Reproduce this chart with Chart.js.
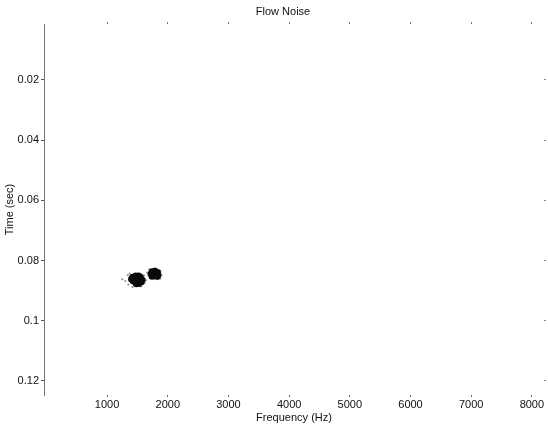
<!DOCTYPE html>
<html>
<head>
<meta charset="utf-8">
<script src="https://cdn.jsdelivr.net/npm/chart.js@4/dist/chart.umd.min.js"></script>
<style>
  html, body { margin: 0; padding: 0; background: #fff; }
  #wrap { width: 548px; height: 426px; }
</style>
</head>
<body>
<div id="wrap"><canvas id="flowNoise" width="548" height="426"></canvas></div>
<script>
// --- datos ---
const xTicks = [1000, 2000, 3000, 4000, 5000, 6000, 7000, 8000];
const yTicks = [0.02, 0.04, 0.06, 0.08, 0.1, 0.12];
const yLabels = ['0.02', '0.04', '0.06', '0.08', '0.1', '0.12'];

// celdas oscuras del espectrograma (Hz, seg)
const coreFreq = [1420, 1470, 1520, 1550, 1400, 1450, 1500, 1550, 1580, 1430, 1480, 1530, 1560, 1480, 1520,
                  1740, 1790, 1830, 1720, 1770, 1810, 1840, 1740, 1790, 1830];
const coreTime = [0.0855, 0.0851, 0.0851, 0.0855, 0.0862, 0.0860, 0.0860, 0.0862, 0.0865, 0.0869, 0.0871, 0.0870, 0.0872, 0.0878, 0.0877,
                  0.0837, 0.0835, 0.0839, 0.0845, 0.0844, 0.0845, 0.0847, 0.0853, 0.0852, 0.0853];

// puntos sueltos del borde
const edgeFreq = [1300, 1340, 1350, 1420, 1560, 1620, 1370, 1610, 1660, 1690, 1790, 1880, 1900, 1880, 1700, 1840, 1250, 1640];
const edgeTime = [0.0868, 0.0848, 0.0880, 0.0888, 0.0886, 0.0876, 0.0843, 0.0850, 0.0840, 0.0830, 0.0826, 0.0834, 0.0850, 0.0860, 0.0858, 0.0862, 0.0862, 0.0866];

const toPoints = (fs, ts) => fs.map((f, i) => ({ x: f, y: ts[i] }));

Chart.defaults.font.family = "'Liberation Sans', Arial, sans-serif";
Chart.defaults.font.size = 11;
Chart.defaults.color = '#111';

const setTicks = vals => scale => { scale.ticks = vals.map(v => ({ value: v })); };

// titulo dibujado a mano para centrarlo como en el original
const titlePlugin = {
    id: 'flowTitle',
    afterDraw(chart) {
        const ctx = chart.ctx;
        ctx.save();
        ctx.font = "11px 'Liberation Sans', Arial, sans-serif";
        ctx.fillStyle = '#111';
        ctx.textAlign = 'center';
        ctx.textBaseline = 'middle';
        ctx.fillText('Flow Noise', 283, 12);
        ctx.restore();
    }
};

new Chart(document.getElementById('flowNoise').getContext('2d'), {
    type: 'scatter',
    data: {
        datasets: [
            {
                data: toPoints(edgeFreq, edgeTime),
                backgroundColor: 'rgba(0,0,0,0.45)',
                borderWidth: 0,
                pointRadius: 1
            },
            {
                data: toPoints(coreFreq, coreTime),
                backgroundColor: '#0a0a0a',
                borderWidth: 0,
                pointRadius: 3.3
            }
        ]
    },
    options: {
        responsive: false,
        animation: false,
        layout: { padding: { top: 22 } },
        plugins: {
            legend: { display: false },
            tooltip: { enabled: false },
            title: { display: false }
        },
        scales: {
            x: {
                type: 'linear',
                position: 'bottom',
                min: -40,
                max: 8200,
                afterBuildTicks: setTicks(xTicks),
                afterFit: s => { s.height = 31; },
                ticks: { padding: 1, maxRotation: 0, autoSkip: false, color: '#111', callback: v => String(v) },
                grid: { drawOnChartArea: false, tickLength: 2, color: '#666' },
                border: { display: false },
                title: { display: true, text: 'Frequency (Hz)', color: '#111', padding: { top: 0, bottom: 1 } }
            },
            x2: {
                type: 'linear',
                position: 'top',
                min: -40,
                max: 8200,
                afterBuildTicks: setTicks(xTicks),
                afterFit: s => { s.height = 2; },
                ticks: { display: false },
                grid: { drawOnChartArea: false, tickLength: 2, color: '#777' },
                border: { display: false }
            },
            y: {
                type: 'linear',
                position: 'left',
                reverse: true,
                min: 0.0014,
                max: 0.1247,
                afterBuildTicks: setTicks(yTicks),
                afterFit: s => { s.width = 44; },
                ticks: { padding: 2, autoSkip: false, color: '#111', callback: (v, i) => yLabels[i] },
                grid: { drawOnChartArea: false, tickLength: 3, color: '#555' },
                border: { display: true, color: '#777', width: 1 },
                title: { display: true, text: 'Time (sec)', color: '#111', padding: { top: 3, bottom: 0 } }
            },
            y2: {
                type: 'linear',
                position: 'right',
                reverse: true,
                min: 0.0014,
                max: 0.1247,
                afterBuildTicks: setTicks(yTicks),
                afterFit: s => { s.width = 2; },
                ticks: { display: false },
                grid: { drawOnChartArea: false, tickLength: 2, color: '#888' },
                border: { display: false }
            }
        }
    },
    plugins: [titlePlugin]
});
</script>
</body>
</html>
